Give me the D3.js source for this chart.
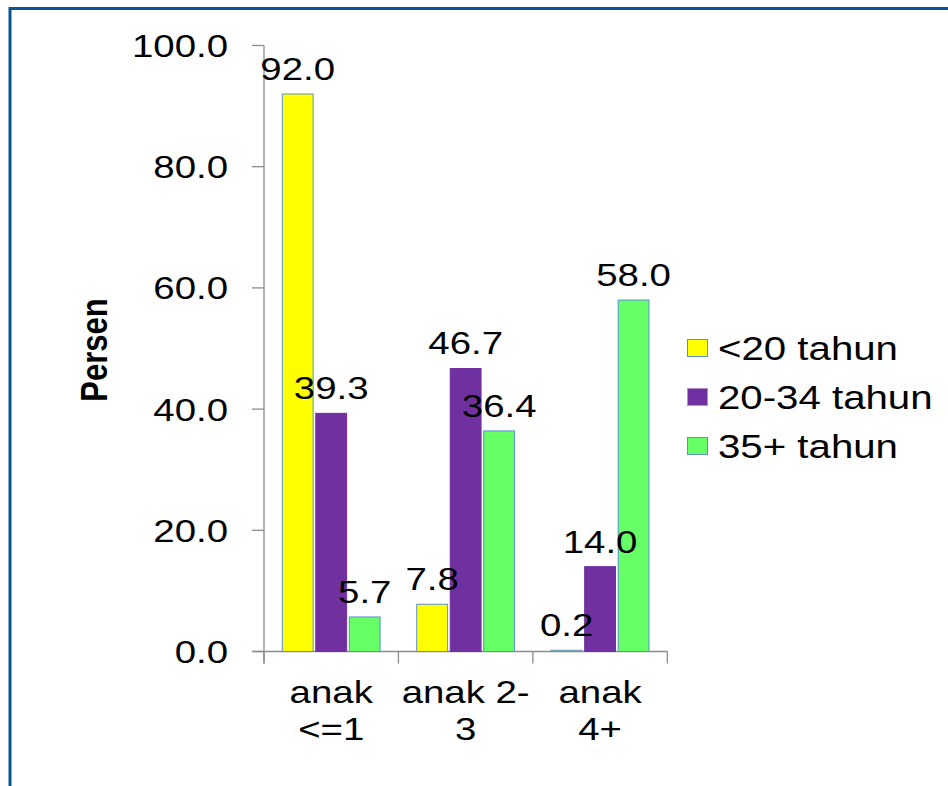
<!DOCTYPE html>
<html>
<head>
<meta charset="utf-8">
<script src="https://cdn.jsdelivr.net/npm/d3@7"></script>
<style>
  html, body { margin: 0; padding: 0; background: #fff; }
  svg { display: block; }
  text { font-family: "Liberation Sans", Arial, sans-serif; fill: #000; }
</style>
</head>
<body>
<svg id="chart" width="948" height="786"></svg>
<script>
// ---- data ----
const categories = [["anak", "<=1"], ["anak 2-", "3"], ["anak", "4+"]];
const categoryKeys = ["anak <=1", "anak 2-3", "anak 4+"];
const seriesNames = ["<20 tahun", "20-34 tahun", "35+ tahun"];
const seriesLt20 = [92.0, 7.8, 0.2];
const series20to34 = [39.3, 46.7, 14.0];
const series35plus = [5.7, 36.4, 58.0];
const yTicks = [0, 20, 40, 60, 80, 100];
const yLabel = "Persen";

const seriesValues = [seriesLt20, series20to34, series35plus];
const colors = ["#ffff00", "#7030a0", "#66ff66"];
const strokes = ["#5b8fd6", "#7030a0", "#5b8fd6"];
const legendStrokes = ["#5b8fd6", "#b48fd0", "#5b8fd6"];

const SX = 1.2; // horizontal stretch of text, as in reference
const svg = d3.select("#chart");

// frame
svg.append("path")
  .attr("d", "M10,800 L10,8.5 L960,8.5")
  .attr("fill", "none").attr("stroke", "#0b5394").attr("stroke-width", 3);

const x = d3.scaleBand().domain(categoryKeys).range([264, 667.3]).paddingInner(0).paddingOuter(0);
const xs = d3.scaleBand().domain(seriesNames).range([18.3, x.bandwidth() - 18.3]).paddingInner(0.08).paddingOuter(0);
const y = d3.scaleLinear().domain([0, 100]).range([651.5, 45.5]);

const axisColor = "#8c8c8c";
const tickLen = 12;

// y axis
svg.append("line").attr("x1", 264).attr("x2", 264)
  .attr("y1", y(100)).attr("y2", y(0) + tickLen)
  .attr("stroke", axisColor).attr("stroke-width", 1.3);
yTicks.forEach(t => {
  svg.append("line").attr("x1", 264 - tickLen).attr("x2", 264)
    .attr("y1", y(t)).attr("y2", y(t)).attr("stroke", axisColor).attr("stroke-width", 1.3);
  svg.append("text")
    .attr("transform", `translate(228,${y(t) + 11.5}) scale(${SX},1)`)
    .attr("text-anchor", "end").attr("font-size", 32)
    .text(d3.format(".1f")(t));
});

// x axis
svg.append("line").attr("x1", 264 - tickLen).attr("x2", x.range()[1])
  .attr("y1", y(0)).attr("y2", y(0)).attr("stroke", axisColor).attr("stroke-width", 1.3);
const bounds = categoryKeys.map(c => x(c)).concat([x.range()[1]]);
bounds.forEach(b => {
  svg.append("line").attr("x1", b).attr("x2", b)
    .attr("y1", y(0)).attr("y2", y(0) + tickLen).attr("stroke", axisColor).attr("stroke-width", 1.3);
});

// bars
categoryKeys.forEach((c, ci) => {
  seriesNames.forEach((s, si) => {
    const v = seriesValues[si][ci];
    const bx = x(c) + xs(s);
    svg.append("rect")
      .attr("x", bx).attr("y", y(v))
      .attr("width", xs.bandwidth()).attr("height", y(0) - y(v))
      .attr("fill", colors[si]).attr("stroke", strokes[si]).attr("stroke-width", 1);
  });
});

// value labels (on top of all bars)
categoryKeys.forEach((c, ci) => {
  seriesNames.forEach((s, si) => {
    const v = seriesValues[si][ci];
    const bx = x(c) + xs(s);
    svg.append("text")
      .attr("transform", `translate(${bx + xs.bandwidth() / 2},${y(v) - 14}) scale(${SX},1)`)
      .attr("text-anchor", "middle").attr("font-size", 32)
      .text(d3.format(".1f")(v));
  });
  // category label
  const cx = x(c) + x.bandwidth() / 2;
  categories[ci].forEach((line, li) => {
    svg.append("text")
      .attr("transform", `translate(${cx},${703 + li * 37}) scale(${SX},1)`)
      .attr("text-anchor", "middle").attr("font-size", 32)
      .text(line);
  });
});

// y label
svg.append("text")
  .attr("transform", `translate(107,350) scale(${SX},1) rotate(-90)`)
  .attr("text-anchor", "middle").attr("font-size", 31).attr("font-weight", "bold")
  .text(yLabel);

// legend
seriesNames.forEach((s, si) => {
  const cy = 348 + si * 49;
  svg.append("rect").attr("x", 687.5).attr("y", cy - 8.5).attr("width", 20).attr("height", 17)
    .attr("fill", colors[si]).attr("stroke", legendStrokes[si]).attr("stroke-width", 1);
  svg.append("text")
    .attr("transform", `translate(718,${cy + 11.5}) scale(${SX},1)`)
    .attr("font-size", 33.5)
    .text(s);
});
</script>
</body>
</html>
